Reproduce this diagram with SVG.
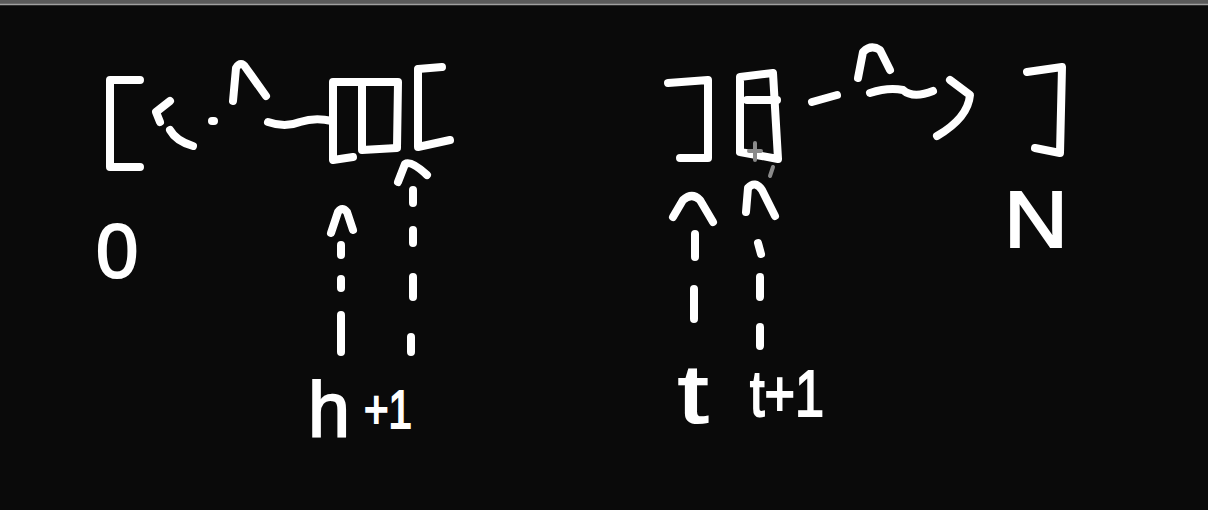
<svg xmlns="http://www.w3.org/2000/svg" width="1208" height="510" viewBox="0 0 1208 510">
<style>
.s{fill:none;stroke:#fff;stroke-width:8;stroke-linecap:round;stroke-linejoin:round}
.g{fill:none;stroke:#8a8a8a;stroke-width:4;stroke-linecap:round}
.t{fill:#fff;stroke:#fff;stroke-width:2;font-family:"Liberation Sans","DejaVu Sans",sans-serif}
</style>
<rect width="1208" height="510" fill="#0a0a0a"/>
<rect width="1208" height="4" fill="#5a5a5a"/>
<line x1="0" y1="4.5" x2="1208" y2="4.5" stroke="#a0a0a0" stroke-width="1.5"/>

<g id="left-array">
  <path class="s" d="M140,80 L110,80 L110,167 L140,167"/>
  <path class="s" d="M170,101 L156,112 L160,122"/>
  <path class="s" d="M170,130 Q176,141 193,146"/>
  <path class="s" d="M212,121 L214,121"/>
  <path class="s" d="M233,101 L236,68 Q241,60 246,68 L266,96"/>
  <path class="s" d="M268,122 Q285,128 300,122 Q315,117 332,121"/>
  <path class="s" d="M353,157 L333,160 L333,82 L398,82 L397,148 L362,150 L362,84"/>
  <path class="s" d="M442,67 L418,69 L418,147 L450,140"/>
</g>

<g id="right-array">
  <path class="s" d="M668,83 L708,80 L708,158 L680,158"/>
  <path class="s" d="M740,152 L740,77 L773,73 L778,159 L740,152"/>
  <path class="s" d="M747,100 L777,100"/>
  <path class="g" d="M773,167 L770,176"/>
  <path class="g" d="M755,143 L755,160 M749,151 L761,151"/>
  <path class="s" d="M812,102 L837,95"/>
  <path class="s" d="M858,78 L863,52 Q871,44 880,50 L890,70"/>
  <path class="s" d="M870,93 Q888,87 903,90 Q913,99 933,91"/>
  <path class="s" d="M950,80 L970,95 Q968,118 937,136"/>
  <path class="s" d="M1027,72 L1062,67 L1060,153 L1035,148"/>
</g>

<g id="connectors">
  <path class="s" d="M331,233 L338,212 Q342,206 347,212 L353,230"/>
  <path class="s" d="M341,245 L341,255 M341,279 L341,288 M341,315 L341,352"/>
  <path class="s" d="M398,182 L405,164 Q411,160 427,175"/>
  <path class="s" d="M413,190 L413,203 M413,230 L413,243 M413,277 L413,297 M411,337 L411,352"/>
  <path class="s" d="M673,217 L683,200 Q692,192 700,200 L713,222"/>
  <path class="s" d="M695,234 L695,257 M694,289 L694,319"/>
  <path class="s" d="M746,212 L748,188 Q755,180 762,190 L775,216"/>
  <path class="s" d="M758,243 L761,254 M760,277 L760,297 M760,327 L760,346"/>
</g>

<g id="labels">
  <text class="t" x="96" y="277" font-size="76">0</text>
  <text class="t" x="308" y="437" font-size="78" textLength="42" lengthAdjust="spacingAndGlyphs">h</text>
  <text class="t" x="364" y="428" font-size="54" textLength="48" lengthAdjust="spacingAndGlyphs">+1</text>
  <text class="t" x="678" y="422" font-size="82" textLength="30" lengthAdjust="spacingAndGlyphs">t</text>
  <text class="t" x="750" y="416" font-size="64" textLength="74" lengthAdjust="spacingAndGlyphs">t+1</text>
  <text class="t" x="1004" y="247" font-size="80" textLength="64" lengthAdjust="spacingAndGlyphs">N</text>
</g>
</svg>
